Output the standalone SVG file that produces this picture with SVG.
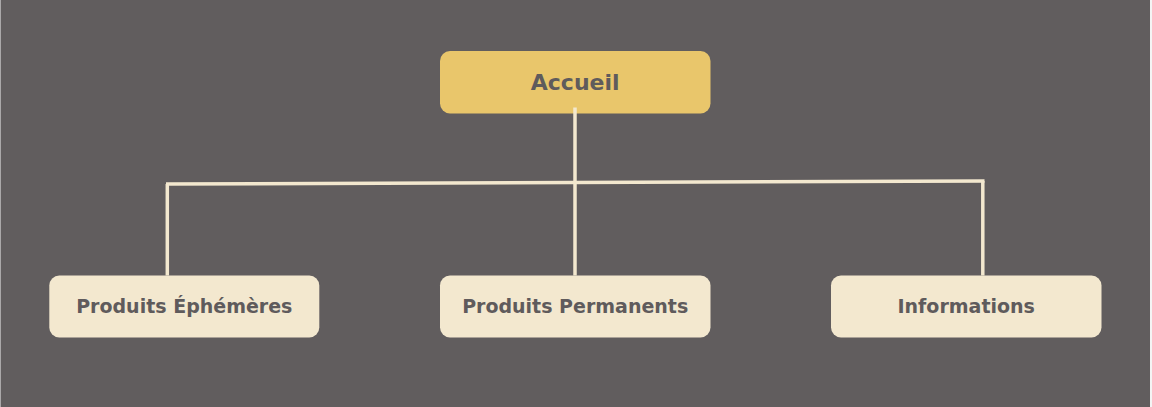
<svg xmlns="http://www.w3.org/2000/svg" width="1152" height="407" viewBox="0 0 1152 407">
<style>
.box{fill:#f3e8cf;}
.root{fill:#e9c66b;}
.lbl{font-family:"DejaVu Sans",sans-serif;font-weight:bold;fill:#5f5b5c;text-anchor:middle;}
.conn{fill:none;stroke:#f3e8cf;stroke-width:3.5;}
</style>
<rect x="0" y="0" width="1152" height="407" fill="#f4f4f4"/>
<rect x="0.5" y="0" width="1149.5" height="407" fill="#615d5e"/>
<g id="node-accueil">
<rect class="root" x="440" y="51" width="270.5" height="62.5" rx="10"/>
<text class="lbl" x="575.2" y="90" font-size="22">Accueil</text>
</g>
<g id="node-ephemeres">
<rect class="box" x="49.3" y="275.5" width="270" height="62" rx="10"/>
<text class="lbl" x="184.3" y="312.5" font-size="19">Produits Éphémères</text>
</g>
<g id="node-permanents">
<rect class="box" x="440" y="275.5" width="270.5" height="62" rx="10"/>
<text class="lbl" x="575.2" y="312.5" font-size="19">Produits Permanents</text>
</g>
<g id="node-informations">
<rect class="box" x="831" y="275.5" width="270.5" height="62" rx="10"/>
<text class="lbl" x="966.2" y="312.5" font-size="19">Informations</text>
</g>
<g id="connectors">
<path class="conn" d="M575 107.5 V275.5"/>
<path class="conn" d="M166 184 L984.5 181"/>
<path class="conn" d="M167.3 184 V275.5"/>
<path class="conn" d="M982.8 181 V275.5"/>
</g>
</svg>
